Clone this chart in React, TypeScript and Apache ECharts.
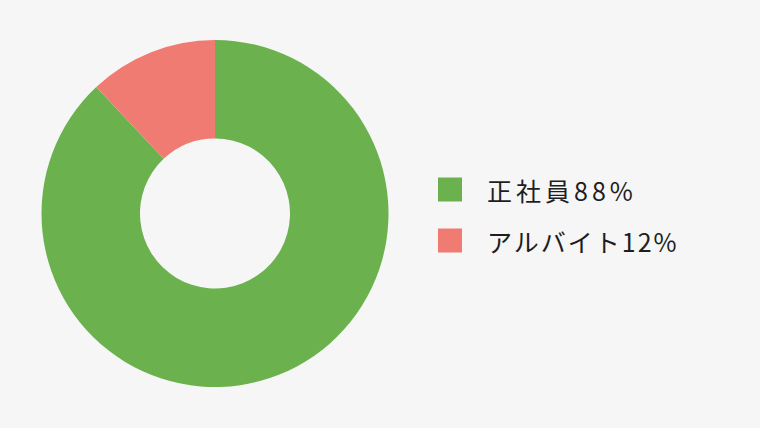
import { useEffect, useRef } from 'react';
import * as echarts from 'echarts';

const categories = ['正社員', 'アルバイト'];
const values = [88, 12];
const colors = ['#6bb24f', '#ef7b72'];

export default function App() {
    const chartRef = useRef<HTMLDivElement>(null);

    useEffect(() => {
        document.body.style.margin = '0';
        document.body.style.background = '#f6f6f6';
        const myChart = echarts.init(chartRef.current, null, { renderer: 'svg' });

        myChart.setOption({
            animation: false,
            backgroundColor: '#f6f6f6',
            color: colors,
            legend: {
                orient: 'vertical',
                left: 438,
                top: 177,
                padding: 0,
                icon: 'rect',
                itemWidth: 24,
                itemHeight: 24,
                itemGap: 26,
                selectedMode: false,
                formatter: (name: string) => {
                    const i = categories.indexOf(name);
                    return name + values[i] + '%';
                },
                textStyle: {
                    fontFamily: 'Noto Sans CJK JP',
                    fontSize: 25,
                    color: '#1e1e1e',
                    padding: [0, 0, 0, 20],
                },
            },
            series: [
                {
                    type: 'pie',
                    center: [215, 213.5],
                    radius: [75, 173.5],
                    startAngle: 90,
                    clockwise: true,
                    label: { show: false },
                    labelLine: { show: false },
                    emphasis: { disabled: true },
                    data: categories.map((name, i) => ({ name, value: values[i] })),
                },
            ],
        });

        return () => {
            myChart.dispose();
        };
    }, []);

    return (
        <>
            {/* the legend text is spaced out in the original, the first row more */}
            <style>{`
                #donut text { letter-spacing: 2px; }
                #donut svg text:nth-of-type(1) { letter-spacing: 4px; }
            `}</style>
            <div id="donut" ref={chartRef} style={{ width: '760px', height: '428px' }} />
        </>
    );
}
